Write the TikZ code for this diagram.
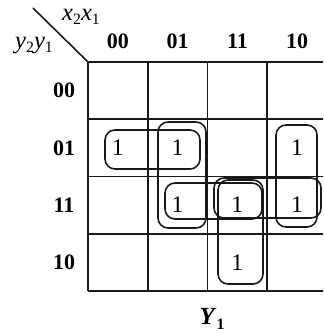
\documentclass[tikz,border=0pt]{standalone}
\usepackage{fontspec}
\setmainfont{Liberation Serif}
\usepackage{tikz}
\usetikzlibrary{calc}

% subscripted variable in text italics
\newcommand{\kvar}[2]{\textit{#1}\raisebox{-0.35ex}{\fontsize{9}{10}\selectfont #2}}

\begin{document}
\begin{tikzpicture}[x=0.2mm,y=-0.2mm]

% styles
\tikzset{
  gridline/.style={line width=0.9pt, black!90},
  loopbox/.style={line width=0.9pt, black!90, rounded corners=2mm},
  head/.style={font=\fontsize{12.5}{14}\selectfont\bfseries, inner sep=0pt},
  one/.style={font=\fontsize{13.5}{15}\selectfont, inner sep=0pt},
  varname/.style={font=\fontsize{14}{16}\selectfont, inner sep=0pt}
}

% page size of the reference
\useasboundingbox (0,0) rectangle (323,333);
\clip (0,0) rectangle (323,333);

% Corner of the map and cell size
\def\xo{88}
\def\yo{62}
\def\cw{59.75}
\def\ch{57.25}
\coordinate (corner) at (\xo,\yo);
\coordinate (diag) at (33,8);

% Draw the grid
\foreach \i in {0,...,4} {
    \draw[gridline] ({\xo+\i*\cw},\yo) -- ({\xo+\i*\cw},{\yo+4*\ch});
    \draw[gridline] (\xo,{\yo+\i*\ch}) -- ({\xo+4*\cw},{\yo+\i*\ch});
}
\draw[gridline] (diag) -- (corner);

% variable names
\node[varname] (xvars) at (81,17) {\kvar{x}{2}\kvar{x}{1}};
\node[varname] (yvars) at (34,46) {\kvar{y}{2}\kvar{y}{1}};

% column and row labels
\foreach \lab [count=\k from 0] in {00,01,11,10} {
    \node[head] (col\k) at ({\xo+(\k+0.5)*\cw},41) {\lab};
    \node[head] (row\k) at (64,{\yo+(\k+0.5)*\ch}) {\lab};
}

% the ones: (column,row)
\foreach \c/\r in {0/1, 1/1, 3/1, 1/2, 2/2, 3/2, 2/3} {
    \node[one] (m\c\r) at ({\xo+(\c+0.5)*\cw},{\yo+(\r+0.5)*\ch}) {1};
}

% Loops
\draw[loopbox] (105,130) rectangle (200,169);
\draw[loopbox] (158,122) rectangle (206,228);
\draw[loopbox] (165,183) rectangle (262,219);
\draw[loopbox] (218,180) rectangle (263,284);
\draw[loopbox] (276,125) rectangle (317,227);
\draw[loopbox] (214,178) rectangle (321,218);

% function name
\node[varname] (fname) at (212,319) {\textbf{\textit{Y}}\raisebox{-0.4ex}{\fontsize{9}{10}\selectfont\bfseries 1}};

\end{tikzpicture}
\end{document}
